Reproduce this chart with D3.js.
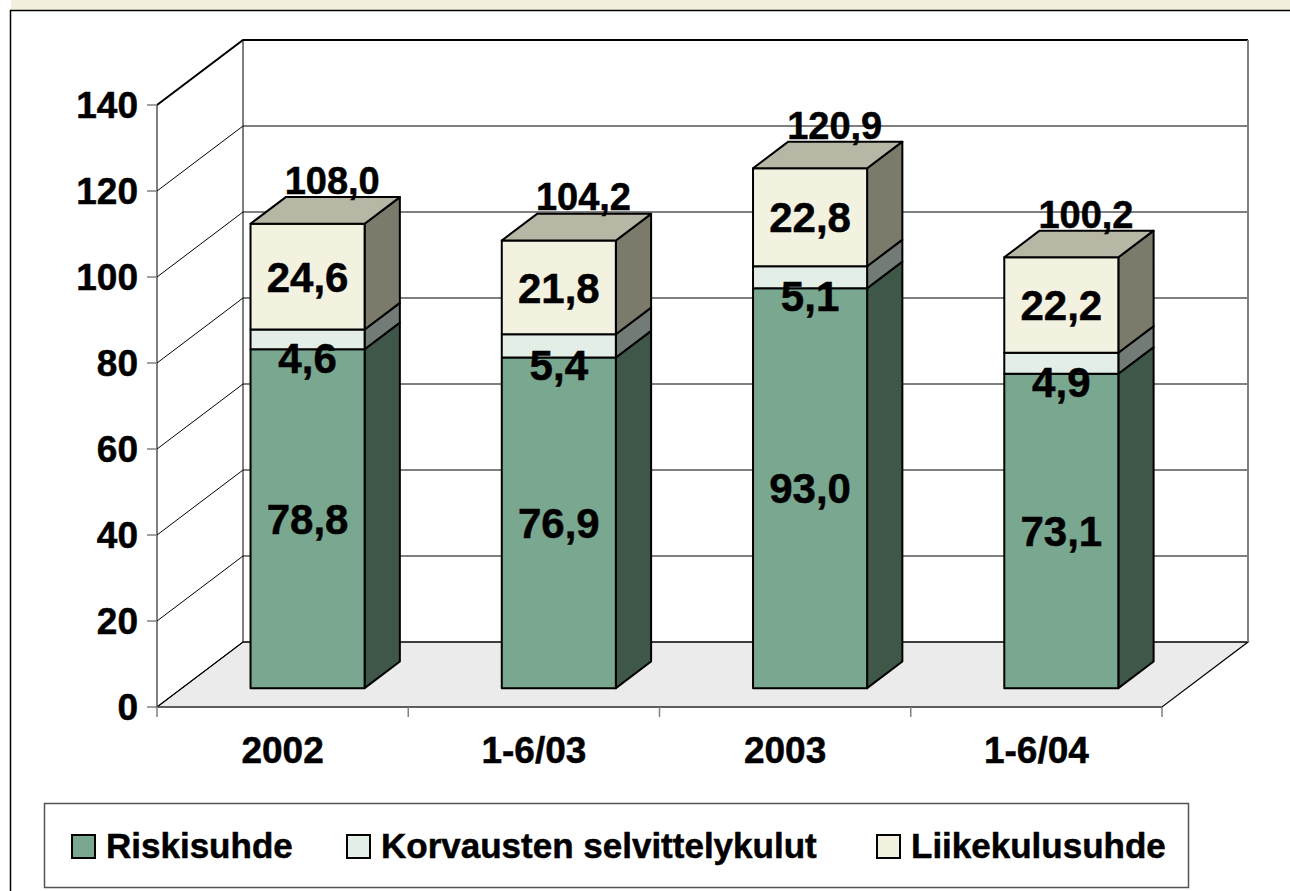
<!DOCTYPE html>
<meta charset="utf-8">
<html>
<head>
<title>riskisuhde</title>
<style>
    body {
        margin: 0;
        background: #fff;
        font-family: Arial, "Liberation Sans", sans-serif;
    }
    text { font-weight: bold; fill: #000; stroke: #000; stroke-width: 0.5px; }
</style>
<script src="https://d3js.org/d3.v7.min.js"></script>
</head>
<body>
<div id="chart"></div>

<script>

// ##### data #####
var categories = ["2002", "1-6/03", "2003", "1-6/04"];
var seriesNames = ["Riskisuhde", "Korvausten selvittelykulut", "Liikekulusuhde"];
var riskisuhde = [78.8, 76.9, 93.0, 73.1];
var korvaukset = [4.6, 5.4, 5.1, 4.9];
var liikekulut = [24.6, 21.8, 22.8, 22.2];
var totals = [108.0, 104.2, 120.9, 100.2];
var yTicks = [0, 20, 40, 60, 80, 100, 120, 140];

// colours: front face, side face, top face
var colors = [
  {front: "#7aa78f", side: "#3e5748", top: "#5c7d6b"},
  {front: "#e3eee6", side: "#737b76", top: "#aab3ad"},
  {front: "#f3f1df", side: "#7b7a6b", top: "#b8b7a6"}
];

var fmt = function(v) { return d3.format(".1f")(v).replace(".", ","); };

// ##### layout #####
var W = 1290, H = 891;
var DX = 86, DY = 65;          // depth of the floor
var d0 = 0.29, d1 = 0.70;      // bar front / back depth (fraction of floor depth)

var x = d3.scaleBand().domain(categories).range([157, 1162])
    .paddingInner(0.546).paddingOuter(0.273);
var y = d3.scaleLinear().domain([0, 140]).range([707, 105]);

function P(px, v, d) { return [px + DX * d, y(v) - DY * d]; }

var svg = d3.select("#chart").append("svg")
    .attr("width", W).attr("height", H);

// frame
svg.append("rect").attr("x", 11).attr("y", 0).attr("width", W).attr("height", 10)
    .attr("fill", "#f2f0dc");
svg.append("rect").attr("x", 10.5).attr("y", 10.5).attr("width", W + 10).attr("height", H + 10)
    .attr("fill", "#fff").attr("stroke", "#000").attr("stroke-width", 1.5);

var x0 = x.range()[0], x1 = x.range()[1];

// back wall
svg.append("rect")
    .attr("x", x0 + DX).attr("y", y(140) - DY)
    .attr("width", x1 - x0).attr("height", y(0) - y(140))
    .attr("fill", "#fff");

// floor
svg.append("path")
    .attr("d", d3.line()([P(x0, 0, 0), P(x0, 0, 1), P(x1, 0, 1), P(x1, 0, 0)]) + "Z")
    .attr("fill", "#ebebeb").attr("stroke", "#000").attr("stroke-width", 1.2);

// gridlines: left wall diagonal + back wall horizontal
yTicks.forEach(function(t) {
  var a = P(x0, t, 0), b = P(x0, t, 1), c = P(x1, t, 1);
  svg.append("path")
      .attr("d", d3.line()([a, b, c]))
      .attr("fill", "none")
      .attr("stroke", "#000")
      .attr("stroke-width", t === 140 ? 2 : 1);
});

// wall edges
svg.append("line")
    .attr("x1", x0 + DX).attr("x2", x0 + DX).attr("y1", y(140) - DY).attr("y2", y(0) - DY)
    .attr("stroke", "#000");
svg.append("line")
    .attr("x1", x1 + DX).attr("x2", x1 + DX).attr("y1", y(140) - DY).attr("y2", y(0) - DY)
    .attr("stroke", "#808080").attr("stroke-width", 2);
svg.append("line")
    .attr("x1", x0).attr("x2", x0).attr("y1", y(140)).attr("y2", y(0))
    .attr("stroke", "#000");
svg.append("line")
    .attr("x1", x0).attr("x2", x1).attr("y1", y(0)).attr("y2", y(0))
    .attr("stroke", "#555").attr("stroke-width", 1.5);

// y ticks + labels
yTicks.forEach(function(t) {
  svg.append("line")
      .attr("x1", x0 - 10).attr("x2", x0).attr("y1", y(t)).attr("y2", y(t))
      .attr("stroke", "#808080").attr("stroke-width", 1.5);
  svg.append("text")
      .attr("x", x0 - 19).attr("y", y(t)).attr("dy", "0.35em")
      .attr("text-anchor", "end")
      .style("font-size", "37px")
      .text(t);
});

// x ticks + labels
var step = x.step();
d3.range(categories.length + 1).forEach(function(i) {
  var px = x0 + i * step;
  svg.append("line")
      .attr("x1", px).attr("x2", px).attr("y1", y(0)).attr("y2", y(0) + 10)
      .attr("stroke", "#808080").attr("stroke-width", 1.5);
});
categories.forEach(function(c) {
  svg.append("text")
      .attr("x", x(c) + x.bandwidth() / 2).attr("y", 763)
      .attr("text-anchor", "middle")
      .style("font-size", "37px")
      .text(c);
});

// ##### bars #####
var series = [riskisuhde, korvaukset, liikekulut];
var line = d3.line();

categories.forEach(function(c, i) {
  var bx = x(c), bw = x.bandwidth();
  var base = 0;
  series.forEach(function(s, k) {
    var lo = base, hi = base + s[i];
    var col = colors[k];
    // side face
    svg.append("path")
        .attr("d", line([P(bx + bw, lo, d0), P(bx + bw, lo, d1), P(bx + bw, hi, d1), P(bx + bw, hi, d0)]) + "Z")
        .attr("fill", col.side).attr("stroke", "#000").attr("stroke-width", 2)
        .attr("stroke-linejoin", "round");
    // front face
    svg.append("path")
        .attr("d", line([P(bx, lo, d0), P(bx + bw, lo, d0), P(bx + bw, hi, d0), P(bx, hi, d0)]) + "Z")
        .attr("fill", col.front).attr("stroke", "#000").attr("stroke-width", 2)
        .attr("stroke-linejoin", "round");
    // top face on the last segment
    if (k === series.length - 1) {
      svg.append("path")
          .attr("d", line([P(bx, hi, d0), P(bx + bw, hi, d0), P(bx + bw, hi, d1), P(bx, hi, d1)]) + "Z")
          .attr("fill", col.top).attr("stroke", "#000").attr("stroke-width", 2)
          .attr("stroke-linejoin", "round");
    }
    base = hi;
  });
});

// ##### data labels #####
categories.forEach(function(c, i) {
  var cx = x(c) + x.bandwidth() / 2;
  var base = 0;
  series.forEach(function(s, k) {
    var mid = base + s[i] / 2;
    // the thin middle segment's label sits on the front plane (as Excel does)
    var d = (k === 1) ? 0 : d0;
    var p = P(cx, mid, d);
    svg.append("text")
        .attr("x", cx + DX * d0).attr("y", p[1]).attr("dy", "0.36em")
        .attr("text-anchor", "middle")
        .style("font-size", "42px")
        .text(fmt(s[i]));
    base += s[i];
  });
  // total above the bar
  var t = P(cx, totals[i], d1);
  svg.append("text")
      .attr("x", cx + DX * (d0 + d1) / 2 + 7).attr("y", t[1] - 3)
      .attr("text-anchor", "middle")
      .style("font-size", "38px")
      .text(fmt(totals[i]));
});

// ##### legend #####
svg.append("rect")
    .attr("x", 44.5).attr("y", 803.5).attr("width", 1144).attr("height", 84)
    .attr("fill", "#fff").attr("stroke", "#555").attr("stroke-width", 1.5);

var legendX = [72, 347, 877];
seriesNames.forEach(function(n, k) {
  svg.append("rect")
      .attr("x", legendX[k]).attr("y", 835).attr("width", 23).attr("height", 23)
      .attr("fill", colors[k].front).attr("stroke", "#000").attr("stroke-width", 2);
  svg.append("text")
      .attr("x", legendX[k] + 34).attr("y", 858)
      .style("font-size", "35px")
      .text(n);
});

</script>
</body>
</html>
